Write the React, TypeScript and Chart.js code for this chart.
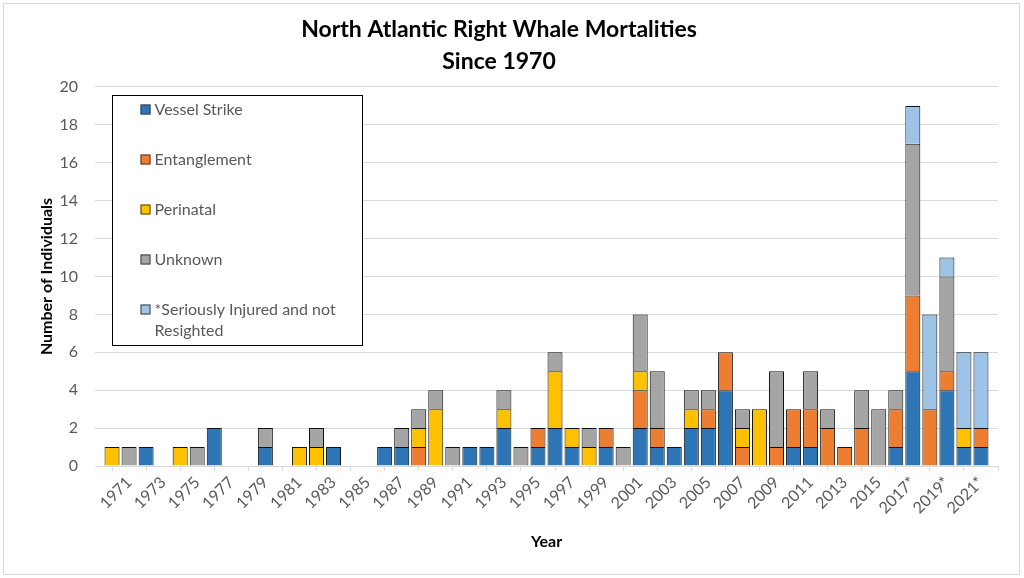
import React, { useEffect, useRef } from "react";
import { Chart, registerables } from "chart.js";

Chart.register(...registerables);

const years = [
  1970, 1971, 1972, 1973, 1974, 1975, 1976, 1977, 1978, 1979,
  1980, 1981, 1982, 1983, 1984, 1985, 1986, 1987, 1988, 1989,
  1990, 1991, 1992, 1993, 1994, 1995, 1996, 1997, 1998, 1999,
  2000, 2001, 2002, 2003, 2004, 2005, 2006, 2007, 2008, 2009,
  2010, 2011, 2012, 2013, 2014, 2015, 2016, 2017, 2018, 2019,
  2020, 2021,
];

const tickLabels = [
  "1971", "1973", "1975", "1977", "1979", "1981", "1983", "1985", "1987", "1989",
  "1991", "1993", "1995", "1997", "1999", "2001", "2003", "2005", "2007", "2009",
  "2011", "2013", "2015", "2017*", "2019*", "2021*",
];

const vesselStrike = [
  0, 0, 1, 0, 0, 0, 2, 0, 0, 1,
  0, 0, 0, 1, 0, 0, 1, 1, 0, 0,
  0, 1, 1, 2, 0, 1, 2, 1, 0, 1,
  0, 2, 1, 1, 2, 2, 4, 0, 0, 0,
  1, 1, 0, 0, 0, 0, 1, 5, 0, 4,
  1, 1,
];

const entanglement = [
  0, 0, 0, 0, 0, 0, 0, 0, 0, 0,
  0, 0, 0, 0, 0, 0, 0, 0, 1, 0,
  0, 0, 0, 0, 0, 1, 0, 0, 0, 1,
  0, 2, 1, 0, 0, 1, 2, 1, 0, 1,
  2, 2, 2, 1, 2, 0, 2, 4, 3, 1,
  0, 1,
];

const perinatal = [
  1, 0, 0, 0, 1, 0, 0, 0, 0, 0,
  0, 1, 1, 0, 0, 0, 0, 0, 1, 3,
  0, 0, 0, 1, 0, 0, 3, 1, 1, 0,
  0, 1, 0, 0, 1, 0, 0, 1, 3, 0,
  0, 0, 0, 0, 0, 0, 0, 0, 0, 0,
  1, 0,
];

const unknown = [
  0, 1, 0, 0, 0, 1, 0, 0, 0, 1,
  0, 0, 1, 0, 0, 0, 0, 1, 1, 1,
  1, 0, 0, 1, 1, 0, 1, 0, 1, 0,
  1, 3, 3, 0, 1, 1, 0, 1, 0, 4,
  0, 2, 1, 0, 2, 3, 1, 8, 0, 5,
  0, 0,
];

const injuredNotResighted = [
  0, 0, 0, 0, 0, 0, 0, 0, 0, 0,
  0, 0, 0, 0, 0, 0, 0, 0, 0, 0,
  0, 0, 0, 0, 0, 0, 0, 0, 0, 0,
  0, 0, 0, 0, 0, 0, 0, 0, 0, 0,
  0, 0, 0, 0, 0, 0, 0, 2, 5, 1,
  4, 4,
];

const seriesNames = [
  "Vessel Strike",
  "Entanglement",
  "Perinatal",
  "Unknown",
  "*Seriously Injured and not Resighted",
];
const seriesValues = [vesselStrike, entanglement, perinatal, unknown, injuredNotResighted];
const seriesColors = ["#2E75B6", "#ED7D31", "#FFC000", "#A5A5A5", "#9DC3E6"];

const FONT = "Lato, 'Open Sans', sans-serif";
const TEXT_GRAY = "#595959";
const GRID = "#d9d9d9";

const backgroundPlugin = {
  id: "bgBorder",
  beforeDraw(chart: any) {
    const { ctx, width, height } = chart;
    ctx.save();
    ctx.fillStyle = "#ffffff";
    ctx.fillRect(0, 0, width, height);
    ctx.strokeStyle = GRID;
    ctx.lineWidth = 1;
    ctx.strokeRect(3.5, 3.5, width - 8, height - 7);
    ctx.restore();
  },
};

const boxLegendPlugin = {
  id: "boxLegend",
  afterDatasetsDraw(chart: any) {
    const { ctx, chartArea } = chart;
    const x0 = Math.round(chartArea.left + 17) + 0.5;
    const y0 = Math.round(chartArea.top + 8) + 0.5;
    const w = 250;
    const h = 250;
    ctx.save();
    ctx.fillStyle = "#ffffff";
    ctx.fillRect(x0, y0, w, h);
    ctx.strokeStyle = "#000000";
    ctx.lineWidth = 1;
    ctx.strokeRect(x0, y0, w, h);
    ctx.font = `16px ${FONT}`;
    ctx.textBaseline = "middle";
    ctx.textAlign = "left";
    const maxW = w - 50;
    chart.data.datasets.forEach((ds: any, i: number) => {
      const cy = y0 + 14 + i * 50;
      const sx = x0 + 28;
      ctx.fillStyle = ds.backgroundColor;
      ctx.fillRect(sx, cy - 5, 10, 10);
      ctx.strokeStyle = "#404040";
      ctx.strokeRect(sx + 0.5, cy - 4.5, 9, 9);
      ctx.fillStyle = TEXT_GRAY;
      const words = String(ds.label).split(" ");
      const lines: string[] = [];
      let cur = "";
      for (const wd of words) {
        const t = cur ? cur + " " + wd : wd;
        if (ctx.measureText(t).width > maxW && cur) {
          lines.push(cur);
          cur = wd;
        } else {
          cur = t;
        }
      }
      if (cur) lines.push(cur);
      lines.forEach((ln, j) => ctx.fillText(ln, sx + 14, cy + j * 21));
    });
    ctx.restore();
  },
};

export default function App() {
  const canvasRef = useRef<HTMLCanvasElement | null>(null);

  useEffect(() => {
    document.body.style.margin = "0";
    const canvas = canvasRef.current;
    if (!canvas) return;
    const datasets = seriesNames.map((name, i) => ({
      label: name,
      data: years.map((yr, k) => ({ x: yr, y: seriesValues[i][k] === 0 ? null : seriesValues[i][k] })),
      backgroundColor: seriesColors[i],
      borderColor: "#111111",
      borderWidth: { top: 1, left: 1, right: 1, bottom: 0 },
      borderSkipped: false,
      categoryPercentage: 1,
      barPercentage: 0.88,
    }));

    const chart = new Chart(canvas, {
      type: "bar",
      data: { datasets } as any,
      plugins: [backgroundPlugin, boxLegendPlugin],
      options: {
        animation: false,
        responsive: false,
        devicePixelRatio: 1,
        layout: { padding: { left: 0, right: 26, top: 0, bottom: 0 } },
        plugins: {
          legend: { display: false },
          tooltip: { enabled: false },
          title: {
            display: true,
            text: ["North Atlantic Right Whale Mortalities", "Since 1970"],
            color: "#000000",
            font: { family: FONT, size: 23, weight: "bold", lineHeight: 1.391 },
            padding: { top: 14, bottom: 9 },
          },
        },
        scales: {
          x: {
            type: "linear",
            min: 1969,
            max: 2022,
            stacked: true,
            offset: false,
            afterBuildTicks: (axis: any) => {
              axis.ticks = [1969, ...tickLabels.map((l) => parseInt(l, 10))].map((v) => ({ value: v }));
            },
            ticks: {
              autoSkip: false,
              maxRotation: 45,
              minRotation: 45,
              color: TEXT_GRAY,
              font: { family: FONT, size: 16 },
              padding: 2,
              callback: (v: any) => {
                const lbl = tickLabels.find((l) => parseInt(l, 10) === Number(v));
                return lbl ?? "";
              },
            },
            grid: { display: true, drawOnChartArea: false, drawTicks: true, tickLength: 5, color: GRID },
            border: { display: true, color: GRID },
            title: {
              display: true,
              text: "Year",
              color: "#000000",
              font: { family: FONT, size: 16, weight: "bold" },
              padding: { top: 0, bottom: 27 },
            },
            afterFit: (s: any) => {
              s.height = 112;
            },
          } as any,
          y: {
            stacked: true,
            min: 0,
            max: 20,
            ticks: {
              stepSize: 2,
              color: TEXT_GRAY,
              font: { family: FONT, size: 16 },
              padding: 17,
            },
            grid: { color: GRID, drawTicks: false },
            border: { display: false },
            title: {
              display: true,
              text: "Number of Individuals",
              color: "#000000",
              font: { family: FONT, size: 16, weight: "bold" },
              padding: { top: 37, bottom: 0 },
            },
            afterFit: (s: any) => {
              s.width = 95;
            },
          } as any,
        },
      },
    });
    return () => chart.destroy();
  }, []);

  return (
    <div style={{ width: 1024, height: 578 }}>
      <canvas ref={canvasRef} width={1024} height={578} style={{ display: "block" }} />
    </div>
  );
}
